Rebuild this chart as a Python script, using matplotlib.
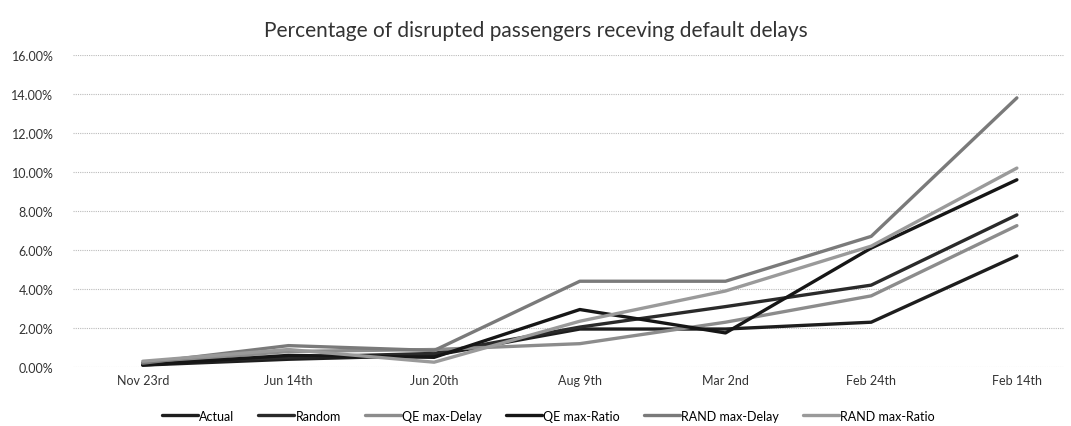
import numpy as np
import matplotlib
matplotlib.use("Agg")
from matplotlib import pyplot as plt
from matplotlib.ticker import FuncFormatter

plt.rcParams['font.family'] = ['Lato', 'DejaVu Sans']

dates = ['Nov 23rd', 'Jun 14th', 'Jun 20th', 'Aug 9th', 'Mar 2nd', 'Feb 24th', 'Feb 14th']

# values in percent
actual = [0.10, 0.40, 0.60, 1.95, 1.95, 2.30, 5.70]
random_ = [0.20, 0.50, 0.70, 2.05, 3.10, 4.20, 7.80]
qe_delay = [0.20, 0.80, 0.90, 1.20, 2.30, 3.65, 7.25]
qe_ratio = [0.10, 0.60, 0.50, 2.95, 1.75, 6.10, 9.60]
rand_delay = [0.20, 1.10, 0.85, 4.40, 4.40, 6.70, 13.80]
rand_ratio = [0.30, 0.90, 0.25, 2.35, 3.90, 6.20, 10.20]

names = ['Actual', 'Random', 'QE max-Delay', 'QE max-Ratio', 'RAND max-Delay', 'RAND max-Ratio']
series = [actual, random_, qe_delay, qe_ratio, rand_delay, rand_ratio]
colors = ['#1e1e1e', '#2a2a2a', '#8c8c8c', '#161616', '#7a7a7a', '#9a9a9a']

fig = plt.figure(figsize=(10.71, 4.27), dpi=100)
ax = fig.add_axes([0.068, 0.138, 0.925, 0.731])

x = np.arange(len(dates))
for name, vals, c in zip(names, series, colors):
    ax.plot(x, vals, color=c, lw=2.4, label=name, solid_capstyle='round')

ax.set_ylim(0, 16)
ax.set_yticks(np.arange(0, 17, 2))
ax.yaxis.set_major_formatter(FuncFormatter(lambda v, p: '%.2f%%' % v))
ax.set_xlim(-0.48, 6.32)
ax.set_xticks(x)
ax.set_xticklabels(dates)
ax.tick_params(length=0, labelsize=9, colors='#333333')
ax.tick_params(axis='x', pad=5)
ax.tick_params(axis='y', pad=14)
ax.grid(axis='y', color='#bbbbbb', lw=0.8, ls=(0, (1, 1)))
ax.set_axisbelow(True)
for s in ax.spines.values():
    s.set_visible(False)

fig.suptitle('Percentage of disrupted passengers receving default delays',
             y=0.95, fontsize=15, color='#333333')
ax.legend(loc='upper center', bbox_to_anchor=(0.48, -0.1), ncol=6, frameon=False,
          fontsize=9, handlelength=2.9, handletextpad=0.1, columnspacing=1.9)

fig.savefig('out.png', dpi=100)
